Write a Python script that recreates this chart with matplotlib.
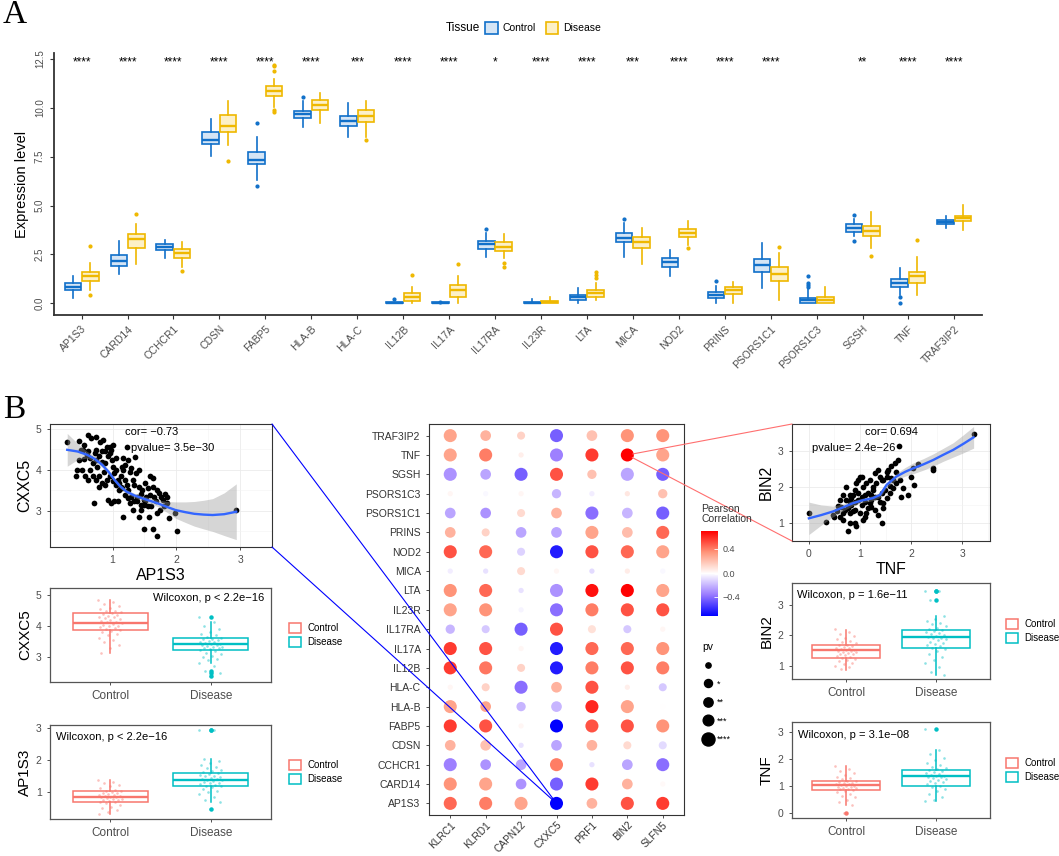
import numpy as np
import matplotlib.pyplot as plt
from matplotlib.patches import Patch, ConnectionPatch
from matplotlib.lines import Line2D
from matplotlib.colors import LinearSegmentedColormap, TwoSlopeNorm
from matplotlib.cm import ScalarMappable

plt.rcParams['font.family'] = ['Liberation Sans', 'DejaVu Sans']

####################
# Panel A data: box statistics
####################
genes = ['AP1S3', 'CARD14', 'CCHCR1', 'CDSN', 'FABP5', 'HLA-B', 'HLA-C', 'IL12B',
         'IL17A', 'IL17RA', 'IL23R', 'LTA', 'MICA', 'NOD2', 'PRINS', 'PSORS1C1',
         'PSORS1C3', 'SGSH', 'TNF', 'TRAF3IP2']
sig = ['****', '****', '****', '****', '****', '****', '***', '****', '****', '*',
       '****', '****', '***', '****', '****', '****', '', '**', '****', '****']

ctrl_lo = [0.29, 1.50, 2.30, 7.51, 6.30, 9.02, 8.50, 0.00, 0.00, 2.39,
           0.00, 0.00, 2.36, 1.37, 0.00, 0.80, 0.00, 3.42, 0.43, 3.83]
ctrl_q1 = [0.68, 1.93, 2.70, 8.16, 7.12, 9.48, 9.08, 0.00, 0.00, 2.78,
           0.00, 0.17, 3.12, 1.88, 0.29, 1.62, 0.03, 3.67, 0.85, 4.05]
ctrl_med = [0.85, 2.17, 2.87, 8.33, 7.34, 9.68, 9.34, 0.02, 0.02, 3.02,
            0.03, 0.31, 3.35, 2.12, 0.43, 1.95, 0.17, 3.86, 1.06, 4.17]
ctrl_q3 = [1.02, 2.48, 3.02, 8.76, 7.74, 9.85, 9.60, 0.05, 0.05, 3.21,
           0.05, 0.43, 3.59, 2.34, 0.56, 2.25, 0.29, 4.05, 1.23, 4.27]
ctrl_hi = [1.40, 3.16, 3.24, 9.43, 8.49, 10.33, 10.25, 0.08, 0.08, 3.59,
           0.20, 0.77, 4.10, 2.73, 0.89, 3.07, 0.72, 4.32, 1.79, 4.47]
ctrl_out = [[], [], [], [], [9.22, 5.98], [10.54], [], [0.22], [0.09], [3.79],
            [], [], [4.30], [], [1.14], [], [1.37, 1.02, 0.94, 0.85], [4.53, 3.19],
            [0.31, 0.0], []]

dis_lo = [0.68, 2.00, 1.88, 8.08, 10.02, 9.22, 8.50, 0.00, 0.00, 2.30,
          0.00, 0.17, 2.00, 2.99, 0.00, 0.17, 0.00, 2.82, 0.43, 3.76]
dis_q1 = [1.16, 2.85, 2.34, 8.76, 10.59, 9.87, 9.26, 0.12, 0.31, 2.68,
          0.00, 0.34, 2.83, 3.38, 0.48, 1.16, 0.03, 3.42, 1.06, 4.23]
dis_med = [1.40, 3.28, 2.56, 9.08, 10.84, 10.16, 9.60, 0.34, 0.68, 2.90,
           0.07, 0.51, 3.14, 3.59, 0.67, 1.50, 0.17, 3.72, 1.40, 4.35]
dis_q3 = [1.59, 3.53, 2.77, 9.65, 11.10, 10.42, 9.90, 0.51, 0.94, 3.12,
          0.12, 0.68, 3.38, 3.79, 0.82, 1.88, 0.34, 3.96, 1.62, 4.44]
dis_hi = [2.05, 4.06, 3.12, 10.33, 11.49, 10.76, 10.33, 0.85, 1.40, 3.53,
          0.34, 1.06, 3.83, 4.23, 1.11, 2.56, 0.85, 4.68, 2.39, 5.05]
dis_out = [[2.95, 0.43], [4.56], [1.67], [7.29], [12.21, 12.12, 11.87, 9.87, 9.77],
           [], [8.37], [1.45], [2.0], [2.05, 1.88], [], [1.62, 1.45, 1.28], [],
           [2.82], [], [2.90], [], [2.44], [3.24], []]

####################
# Panel B data
####################
# AP1S3 (x) vs CXXC5 (y)
ap1s3_x = [0.29, 0.48, 0.50, 0.61, 0.67, 0.74, 0.85, 0.48, 0.43, 0.45, 0.54, 0.56, 0.60,
           0.62, 0.65, 0.69, 0.72, 0.74, 0.76, 0.79, 0.83, 0.86, 0.88, 0.91, 0.93, 0.96,
           0.98, 0.99, 1.00, 1.03, 1.05, 1.08, 1.10, 1.13, 1.15, 1.17, 1.20, 1.22, 1.25,
           1.27, 1.29, 1.32, 1.34, 1.37, 1.38, 1.41, 1.44, 1.46, 1.49, 1.51, 1.53, 1.56,
           1.58, 1.61, 1.63, 1.65, 1.68, 1.70, 1.73, 1.76, 1.79, 1.82, 1.85, 1.58, 1.63,
           1.22, 1.36, 0.71, 1.17, 1.27, 1.13, 0.93, 0.98, 1.03, 1.49, 1.64, 1.70, 1.89,
           2.01, 1.98, 2.94, 1.70, 1.56, 1.44, 1.32, 1.09, 0.88, 0.79, 0.69, 0.65, 0.84,
           0.91, 0.96, 1.00, 1.05, 1.10, 1.15, 1.20, 1.25, 1.29, 1.34, 1.39, 1.44, 1.49,
           1.57, 1.41, 1.75, 1.80, 1.85, 1.25, 1.20, 1.05, 1.00, 0.96, 0.80, 0.74, 0.55,
           0.52, 0.57, 0.62, 0.74, 0.79, 1.17, 1.41, 1.51, 0.88, 0.84]
cxxc5_y = [4.68, 4.71, 4.49, 4.85, 4.77, 4.81, 4.72, 4.24, 3.85, 4.00, 4.49, 4.26, 4.37,
           4.45, 4.28, 4.16, 4.41, 4.24, 4.08, 4.33, 4.20, 3.96, 4.45, 4.57, 4.33, 4.41,
           4.49, 4.23, 4.08, 3.92, 4.00, 3.76, 3.51, 3.84, 4.08, 4.00, 3.76, 3.63, 3.51,
           3.96, 4.04, 3.76, 3.63, 3.92, 3.35, 3.59, 3.41, 3.51, 3.27, 3.23, 3.35, 3.55,
           3.39, 3.11, 3.58, 3.35, 3.23, 3.51, 3.43, 3.35, 3.27, 3.41, 3.33, 3.84, 3.80,
           4.57, 4.31, 3.19, 2.86, 3.19, 3.59, 3.27, 3.19, 3.23, 2.55, 2.56, 2.39, 2.82,
           2.51, 2.94, 3.02, 2.94, 3.11, 3.02, 3.02, 3.23, 3.63, 3.84, 3.84, 4.00, 3.67,
           3.76, 3.84, 3.72, 3.63, 3.67, 3.55, 3.39, 3.31, 3.35, 3.23, 3.23, 3.15, 3.15,
           2.86, 2.86, 3.02, 3.11, 3.19, 4.24, 4.12, 4.28, 4.61, 4.55, 4.67, 4.49, 4.61,
           4.00, 3.84, 3.76, 3.76, 3.59, 4.28, 4.00, 3.67, 4.16, 4.45]
fit1_x = [0.29, 0.45, 0.60, 0.72, 0.84, 0.94, 1.03, 1.12, 1.22, 1.34, 1.46, 1.58, 1.70,
          1.85, 1.99, 2.14, 2.28, 2.43, 2.57, 2.75, 2.94]
fit1_y = [4.49, 4.45, 4.37, 4.27, 4.12, 3.95, 3.76, 3.60, 3.47, 3.38, 3.31, 3.25, 3.19,
          3.10, 3.02, 2.97, 2.93, 2.91, 2.90, 2.92, 2.98]
fit1_se = [0.40, 0.20, 0.08, 0.07, 0.06, 0.05, 0.05, 0.05, 0.05, 0.05, 0.06, 0.07, 0.08,
           0.13, 0.20, 0.25, 0.30, 0.35, 0.40, 0.52, 0.68]

# TNF (x) vs BIN2 (y)
tnf_x = [0.00, 0.34, 0.76, 3.22, 1.76, 2.43, 2.42, 2.14, 2.04, 1.99, 2.05, 1.94, 1.75,
         1.68, 1.61, 1.55, 1.52, 1.45, 1.39, 1.32, 1.25, 1.19, 1.12, 1.06, 0.99, 0.96,
         0.93, 0.90, 0.86, 0.83, 0.80, 0.73, 0.67, 0.60, 0.57, 0.54, 0.50, 0.47, 0.60,
         0.67, 0.80, 0.90, 0.93, 1.06, 1.12, 1.22, 1.29, 1.35, 1.42, 1.45, 1.52, 1.58,
         1.65, 1.71, 1.78, 1.84, 1.61, 1.48, 1.42, 1.35, 1.29, 1.22, 1.16, 1.09, 1.03,
         0.96, 0.90, 0.83, 0.76, 0.70, 0.63, 1.03, 1.09, 1.16, 1.22, 1.39, 0.99, 0.90,
         0.80, 0.73, 1.29, 1.35, 1.42, 1.52, 1.65, 1.03, 0.96, 0.86, 0.67, 0.80, 1.45,
         1.58, 1.71, 1.81, 1.09, 1.19, 1.25]
bin2_y = [1.26, 1.03, 0.78, 3.45, 3.14, 2.51, 2.46, 2.62, 2.51, 2.28, 2.05, 1.77, 2.74,
          2.67, 2.56, 2.46, 2.28, 2.19, 2.28, 2.09, 2.00, 2.19, 2.09, 2.00, 2.28, 2.19,
          2.09, 1.91, 1.77, 1.68, 1.58, 2.00, 1.77, 1.63, 1.46, 1.31, 1.17, 1.21, 1.17,
          1.07, 1.26, 0.98, 0.91, 1.07, 1.26, 1.44, 1.35, 1.21, 1.00, 1.54, 1.68, 1.81,
          1.95, 2.09, 2.19, 1.95, 2.23, 1.91, 1.81, 1.72, 1.72, 1.77, 1.81, 1.77, 1.72,
          1.63, 1.58, 1.49, 1.40, 1.35, 1.44, 1.49, 1.58, 1.40, 1.63, 1.58, 1.26, 1.35,
          1.77, 1.63, 2.37, 2.46, 2.19, 2.42, 2.19, 2.28, 1.81, 1.31, 1.26, 1.00, 1.40,
          2.02, 2.42, 1.72, 1.17, 1.54, 1.91]
fit2_x = [0.00, 0.24, 0.47, 0.66, 0.86, 1.05, 1.25, 1.39, 1.52, 1.71, 1.88, 2.04, 2.24,
          2.43, 2.62, 2.82, 3.02, 3.22]
fit2_y = [1.12, 1.21, 1.31, 1.42, 1.54, 1.62, 1.68, 1.77, 2.05, 2.28, 2.41, 2.51, 2.62,
          2.74, 2.88, 3.02, 3.19, 3.37]
fit2_se = [0.45, 0.28, 0.15, 0.10, 0.07, 0.06, 0.07, 0.07, 0.07, 0.09, 0.12, 0.15, 0.16,
           0.17, 0.18, 0.20, 0.25, 0.30]

# group box plots: (lo, q1, med, q3, hi, outliers) and jittered values
box_stats = {
    'CXXC5': [(3.13, 3.88, 4.11, 4.43, 4.84, []),
              (2.81, 3.24, 3.43, 3.62, 4.13, [4.29, 2.55, 2.48, 2.40])],
    'AP1S3': [(0.33, 0.70, 0.86, 1.03, 1.38, []),
              (0.68, 1.18, 1.37, 1.60, 2.04, [2.93, 2.93, 0.47])],
    'BIN2': [(0.88, 1.26, 1.51, 1.67, 2.18, []),
             (0.70, 1.59, 1.95, 2.18, 2.65, [3.45, 3.45, 3.15])],
    'TNF': [(0.29, 0.85, 1.04, 1.18, 1.73, [0.0]),
            (0.45, 1.02, 1.37, 1.59, 2.34, [3.10])],
}
jit = {
    'CXXC5': [[4.85, 4.78, 4.72, 4.65, 4.60, 4.55, 4.50, 4.48, 4.45, 4.42, 4.40, 4.36, 4.33,
               4.30, 4.28, 4.25, 4.22, 4.20, 4.18, 4.15, 4.12, 4.10, 4.08, 4.05, 4.02, 4.00,
               3.97, 3.94, 3.90, 3.88, 3.85, 3.80, 3.75, 3.70, 3.62, 3.55, 3.48, 3.40, 3.30,
               3.15],
              [4.28, 4.12, 4.00, 3.90, 3.82, 3.75, 3.70, 3.66, 3.62, 3.60, 3.57, 3.55, 3.52,
               3.50, 3.48, 3.46, 3.44, 3.42, 3.40, 3.38, 3.36, 3.34, 3.32, 3.30, 3.28, 3.25,
               3.22, 3.20, 3.15, 3.10, 3.05, 3.00, 2.95, 2.90, 2.82, 2.70, 2.55, 2.48, 2.40]],
    'AP1S3': [[1.38, 1.32, 1.28, 1.22, 1.18, 1.12, 1.08, 1.05, 1.03, 1.00, 0.98, 0.96, 0.94,
               0.92, 0.90, 0.88, 0.87, 0.86, 0.85, 0.84, 0.82, 0.80, 0.78, 0.76, 0.74, 0.72,
               0.70, 0.68, 0.65, 0.60, 0.55, 0.50, 0.45, 0.38, 0.32],
              [2.93, 2.93, 2.05, 1.98, 1.90, 1.85, 1.80, 1.75, 1.70, 1.65, 1.62, 1.60, 1.57,
               1.55, 1.52, 1.50, 1.47, 1.45, 1.42, 1.40, 1.38, 1.37, 1.35, 1.33, 1.30, 1.28,
               1.25, 1.22, 1.20, 1.18, 1.15, 1.10, 1.05, 1.00, 0.95, 0.85, 0.75, 0.68, 0.47]],
    'BIN2': [[2.20, 2.12, 2.05, 1.98, 1.92, 1.87, 1.82, 1.78, 1.74, 1.70, 1.67, 1.65, 1.62,
              1.60, 1.58, 1.55, 1.53, 1.51, 1.50, 1.48, 1.46, 1.44, 1.42, 1.40, 1.38, 1.35,
              1.32, 1.30, 1.27, 1.24, 1.20, 1.15, 1.10, 1.05, 1.00, 0.95, 0.90],
             [3.45, 3.45, 3.15, 2.65, 2.55, 2.48, 2.42, 2.36, 2.30, 2.25, 2.20, 2.17, 2.14,
              2.10, 2.07, 2.04, 2.00, 1.97, 1.95, 1.93, 1.90, 1.87, 1.84, 1.80, 1.76, 1.72,
              1.68, 1.64, 1.60, 1.55, 1.48, 1.40, 1.30, 1.20, 1.10, 0.95, 0.80, 0.70]],
    'TNF': [[1.73, 1.65, 1.55, 1.48, 1.40, 1.35, 1.30, 1.25, 1.20, 1.18, 1.15, 1.13, 1.10,
             1.08, 1.06, 1.04, 1.02, 1.00, 0.98, 0.96, 0.94, 0.92, 0.90, 0.88, 0.85, 0.82,
             0.78, 0.72, 0.65, 0.58, 0.50, 0.40, 0.30, 0.00],
            [3.10, 2.34, 2.20, 2.05, 1.95, 1.85, 1.78, 1.72, 1.66, 1.62, 1.59, 1.55, 1.52,
             1.48, 1.45, 1.42, 1.39, 1.37, 1.35, 1.32, 1.29, 1.25, 1.22, 1.18, 1.14, 1.10,
             1.06, 1.02, 0.98, 0.90, 0.82, 0.72, 0.60, 0.50, 0.45]],
}
wilcox = {'CXXC5': 'Wilcoxon, p < 2.2e\u221216', 'AP1S3': 'Wilcoxon, p < 2.2e\u221216',
          'BIN2': 'Wilcoxon, p = 1.6e\u221211', 'TNF': 'Wilcoxon, p = 3.1e\u221208'}

# dot plot: rows bottom -> top
dot_rows = ['AP1S3', 'CARD14', 'CCHCR1', 'CDSN', 'FABP5', 'HLA-B', 'HLA-C', 'IL12B',
            'IL17A', 'IL17RA', 'IL23R', 'LTA', 'MICA', 'NOD2', 'PRINS', 'PSORS1C1',
            'PSORS1C3', 'SGSH', 'TNF', 'TRAF3IP2']
dot_cols = ['KLRC1', 'KLRD1', 'CAPN12', 'CXXC5', 'PRF1', 'BIN2', 'SLFN5']
pearson = [
    [0.45, 0.40, 0.30, -0.73, 0.25, 0.50, 0.55],
    [0.35, 0.30, -0.30, -0.45, 0.55, 0.25, 0.02],
    [-0.35, -0.30, -0.25, 0.40, -0.08, -0.25, -0.40],
    [0.25, 0.20, -0.08, -0.25, 0.25, 0.12, -0.10],
    [0.55, 0.50, 0.03, -0.73, 0.50, 0.50, 0.35],
    [0.30, 0.30, -0.20, -0.20, 0.60, 0.30, 0.00],
    [0.03, 0.15, -0.40, 0.25, 0.50, 0.05, -0.15],
    [0.55, 0.42, 0.15, -0.65, 0.40, 0.50, 0.40],
    [0.55, 0.50, 0.03, -0.65, 0.45, 0.45, 0.35],
    [-0.20, -0.15, -0.45, 0.50, 0.10, -0.15, 0.03],
    [0.30, 0.35, -0.03, -0.40, 0.40, 0.50, 0.50],
    [0.35, 0.45, -0.08, -0.30, 0.65, 0.68, 0.30],
    [-0.05, -0.08, 0.12, 0.03, -0.10, 0.06, -0.02],
    [0.50, 0.45, -0.12, -0.65, 0.50, 0.45, 0.30],
    [0.25, 0.15, -0.25, -0.25, 0.30, 0.22, 0.45],
    [-0.25, -0.30, 0.12, 0.25, -0.40, -0.20, -0.45],
    [0.03, -0.02, 0.03, -0.20, -0.05, 0.08, 0.20],
    [-0.30, -0.25, -0.45, 0.50, 0.20, -0.25, -0.45],
    [0.30, 0.40, 0.05, -0.35, 0.55, 0.69, 0.30],
    [0.30, 0.25, 0.15, -0.45, 0.20, 0.35, 0.35],
]
pv_level = [
    [4, 4, 4, 4, 3, 4, 4],
    [4, 4, 3, 4, 4, 3, 0],
    [4, 3, 3, 4, 0, 3, 4],
    [3, 3, 0, 3, 3, 1, 1],
    [4, 4, 0, 4, 4, 4, 4],
    [4, 3, 2, 3, 4, 4, 0],
    [0, 1, 4, 3, 4, 0, 1],
    [4, 4, 1, 4, 4, 4, 4],
    [4, 4, 0, 4, 4, 4, 4],
    [2, 1, 4, 4, 1, 1, 0],
    [4, 4, 0, 4, 4, 4, 4],
    [4, 4, 0, 4, 4, 4, 4],
    [0, 0, 1, 0, 0, 0, 0],
    [4, 4, 1, 4, 4, 4, 4],
    [3, 1, 3, 3, 4, 3, 4],
    [3, 3, 1, 3, 4, 3, 4],
    [0, 0, 0, 2, 0, 0, 2],
    [4, 3, 4, 4, 2, 4, 4],
    [4, 4, 0, 4, 4, 4, 4],
    [4, 3, 1, 4, 3, 4, 4],
]
pv_labels = ['', '*', '**', '***', '****']

####################
# styles
####################
W, H = 1059, 856
C_BLUE, C_GOLD = '#1170C9', '#EFB800'
F_BLUE, F_GOLD = '#D5E5F5', '#FCF0C8'
C_CTRL, C_DIS = '#F8766D', '#00BFC4'
GREY = '#4D4D4D'
dot_d = [3.8, 5.8, 6.7, 7.7, 9.4]   # marker diameter (pt) per pv level


def rect(x0, y0, x1, y1):
    # pixel box -> figure fraction
    return [x0 / W, 1 - y1 / H, (x1 - x0) / W, (y1 - y0) / H]


def to_stats(lo, q1, med, q3, hi, out):
    return [dict(whislo=a, q1=b, med=c, q3=d, whishi=e, fliers=f)
            for a, b, c, d, e, f in zip(lo, q1, med, q3, hi, out)]


fig = plt.figure(figsize=(W / 100, H / 100), dpi=100)

fig.text(3 / W, 1 - 15 / H, 'A', family='Liberation Serif', fontsize=24, va='center')
fig.text(3 / W, 1 - 410 / H, 'B', family='Liberation Serif', fontsize=24, va='center')

####################
# Panel A
####################
ax = fig.add_axes(rect(54, 53, 982, 315))
pos = np.arange(1, len(genes) + 1)
for st, off, col, fill in [(to_stats(ctrl_lo, ctrl_q1, ctrl_med, ctrl_q3, ctrl_hi, ctrl_out), -0.19, C_BLUE, F_BLUE),
                           (to_stats(dis_lo, dis_q1, dis_med, dis_q3, dis_hi, dis_out), 0.19, C_GOLD, F_GOLD)]:
    ax.bxp(st, positions=pos + off, widths=0.36, patch_artist=True, showcaps=False,
           boxprops=dict(facecolor=fill, edgecolor=col, lw=1.2),
           medianprops=dict(color=col, lw=1.7),
           whiskerprops=dict(color=col, lw=1.2),
           flierprops=dict(marker='o', markersize=2, markerfacecolor=col, markeredgecolor=col))
for p, s in zip(pos, sig):
    ax.annotate(s, (p, 12.5), xytext=(0, -2.5), textcoords='offset points',
                ha='center', va='center', fontsize=8.5)
ax.set_xlim(0.4, len(genes) + 0.6)
ax.set_ylim(-0.6, 12.8)
ax.set_xticks(pos)
ax.set_xticklabels(genes, rotation=45, ha='right', rotation_mode='anchor', fontsize=7.5)
ax.set_yticks([0, 2.5, 5, 7.5, 10, 12.5])
ax.set_yticklabels(['0.0', '2.5', '5.0', '7.5', '10.0', '12.5'], rotation=90, va='center', fontsize=7)
ax.tick_params(labelcolor=GREY, color='#333333', length=3, width=0.8)
ax.set_ylabel('Expression level', fontsize=10.5, labelpad=4)
for s in ['top', 'right']:
    ax.spines[s].set_visible(False)
for s in ['left', 'bottom']:
    ax.spines[s].set_color('#333333')
    ax.spines[s].set_linewidth(1.3)

fig.text(446 / W, 1 - 28 / H, 'Tissue', fontsize=8.5, va='center')
fig.legend([Patch(facecolor=F_BLUE, edgecolor=C_BLUE, lw=1.2), Patch(facecolor=F_GOLD, edgecolor=C_GOLD, lw=1.2)],
           ['Control', 'Disease'], ncol=2, loc='center left', bbox_to_anchor=(480 / W, 1 - 28 / H),
           frameon=False, fontsize=7.5, handlelength=1.2, handleheight=1.3, handletextpad=0.5,
           columnspacing=0.9, borderpad=0)


####################
# Panel B: scatter plots
####################
def scatter_panel(r, x, y, fx, fy, fse, xlabel, ylabel, xlim, ylim, xt, yt, notes):
    a = fig.add_axes(r)
    a.scatter(x, y, s=17, color='black', lw=0, zorder=2)
    fx, fy, fse = np.array(fx), np.array(fy), np.array(fse)
    a.fill_between(fx, fy - fse, fy + fse, color='#999999', alpha=0.4, lw=0, zorder=3)
    a.plot(fx, fy, color='#3366FF', lw=1.7, zorder=4)
    a.set_xlim(*xlim)
    a.set_ylim(*ylim)
    a.set_xticks(xt)
    a.set_yticks(yt)
    a.set_xticks([v + 0.5 for v in xt[:-1]] + [xt[-1] + 0.5], minor=True)
    a.set_yticks([v + 0.5 for v in yt[:-1]] + [yt[0] - 0.5], minor=True)
    a.grid(which='major', color='#EBEBEB', lw=0.6)
    a.grid(which='minor', color='#F3F3F3', lw=0.4)
    a.set_axisbelow(True)
    a.tick_params(labelsize=7.5, labelcolor=GREY, color='#333333', length=2.5, width=0.6)
    a.tick_params(which='minor', length=0)
    a.set_xlabel(xlabel, fontsize=11.5, labelpad=2)
    a.set_ylabel(ylabel, fontsize=11.5, labelpad=3)
    for sp in a.spines.values():
        sp.set_color('#333333')
        sp.set_linewidth(0.8)
    for (tx, ty, t) in notes:
        a.text(tx, ty, t, ha='center', va='center', fontsize=8, zorder=5)
    return a


ax_l = scatter_panel(rect(50, 424, 272, 547), ap1s3_x, cxxc5_y, fit1_x, fit1_y, fit1_se,
                     'AP1S3', 'CXXC5', (0.02, 3.23), (2.12, 5.12), [1, 2, 3], [3, 4, 5],
                     [(1.61, 4.93, 'cor= \u22120.73'), (1.95, 4.54, 'pvalue= 3.5e\u221230')])
ax_r = scatter_panel(rect(792, 424, 990, 541), tnf_x, bin2_y, fit2_x, fit2_y, fit2_se,
                     'TNF', 'BIN2', (-0.33, 3.54), (0.49, 3.74), [0, 1, 2, 3], [1, 2, 3],
                     [(1.61, 3.53, 'cor= 0.694'), (0.88, 3.08, 'pvalue= 2.4e\u221226')])


####################
# Panel B: group box plots
####################
def group_panel(r, gene, ylim, yt, note_xy, note_ha):
    a = fig.add_axes(r)
    for k, (st, col) in enumerate(zip(box_stats[gene], [C_CTRL, C_DIS])):
        lo, q1, med, q3, hi, out = st
        a.bxp([dict(whislo=lo, q1=q1, med=med, q3=q3, whishi=hi, fliers=out)],
              positions=[k + 1], widths=0.75, showcaps=False, patch_artist=True,
              boxprops=dict(facecolor='none', edgecolor=col, lw=1.1),
              medianprops=dict(color=col, lw=1.7),
              whiskerprops=dict(color=col, lw=1.1),
              flierprops=dict(marker='o', markersize=2.2, markerfacecolor=col, markeredgecolor=col))
        vals = jit[gene][k]
        # spread jitter deterministically inside +-0.12
        offs = [((i * 0.618034) % 1 - 0.5) * 0.24 for i in range(len(vals))]
        a.scatter(np.array(offs) + k + 1, vals, s=3.5, color=col, alpha=0.45, lw=0, zorder=3)
    a.set_xlim(0.4, 2.6)
    a.set_ylim(*ylim)
    a.set_xticks([1, 2])
    a.set_xticklabels(['Control', 'Disease'])
    a.set_yticks(yt)
    a.tick_params(axis='x', labelsize=8.5, labelcolor=GREY, color='#333333', length=2.5, width=0.6)
    a.tick_params(axis='y', labelsize=7.5, labelcolor=GREY, color='#333333', length=2.5, width=0.6)
    a.set_ylabel(gene, fontsize=11, labelpad=3)
    for sp in a.spines.values():
        sp.set_color('#555555')
        sp.set_linewidth(0.9)
    a.text(note_xy[0], note_xy[1], wilcox[gene], ha=note_ha, va='center', fontsize=8)
    a.legend([Patch(facecolor='white', edgecolor=C_CTRL, lw=1.1), Patch(facecolor='white', edgecolor=C_DIS, lw=1.1)],
             ['Control', 'Disease'], loc='center left', bbox_to_anchor=(1.08, 0.5), frameon=False,
             fontsize=7, handlelength=1.3, handleheight=1.2, handletextpad=0.6, labelspacing=0.45,
             borderpad=0, borderaxespad=0)
    return a


group_panel(rect(50, 588, 271, 682), 'CXXC5', (2.2, 5.23), [3, 4, 5], (1.98, 4.9), 'center')
group_panel(rect(50, 725, 271, 819), 'AP1S3', (0.16, 3.1), [1, 2, 3], (0.46, 2.74), 'left')
group_panel(rect(792, 583, 990, 679), 'BIN2', (0.57, 3.72), [1, 2, 3], (0.46, 3.33), 'left')
group_panel(rect(792, 722, 990, 818), 'TNF', (-0.18, 3.37), [0, 1, 2, 3], (0.47, 2.9), 'left')

####################
# Panel B: correlation dot plot
####################
cmap = LinearSegmentedColormap.from_list('pc', ['#0000FF', '#9A7BFF', '#FFFFFF', '#FF967A', '#FF0000'])
norm = TwoSlopeNorm(vmin=-0.73, vcenter=0.0, vmax=0.69)
ax_d = fig.add_axes(rect(429, 424, 684, 815))
cx, cy = np.meshgrid(np.arange(1, len(dot_cols) + 1), np.arange(1, len(dot_rows) + 1))
sizes = np.array(dot_d)[np.array(pv_level)] ** 2
ax_d.scatter(cx.ravel(), cy.ravel(), s=sizes.ravel(), c=np.array(pearson).ravel(),
             cmap=cmap, norm=norm, lw=0, zorder=2)
ax_d.set_xlim(0.4, len(dot_cols) + 0.6)
ax_d.set_ylim(0.4, len(dot_rows) + 0.6)
ax_d.set_xticks(range(1, len(dot_cols) + 1))
ax_d.set_xticklabels(dot_cols, rotation=45, ha='right', rotation_mode='anchor')
ax_d.set_yticks(range(1, len(dot_rows) + 1))
ax_d.set_yticklabels(dot_rows)
ax_d.tick_params(axis='y', labelsize=7.5, labelcolor='#333333', color='#333333', length=2.5, width=0.6)
ax_d.tick_params(axis='x', labelsize=7.3, labelcolor='#333333', color='#333333', length=2.5,
                 width=0.6, pad=1)
for sp in ax_d.spines.values():
    sp.set_color('#333333')
    sp.set_linewidth(0.8)

cax = fig.add_axes(rect(701, 531, 718, 616))
cb = fig.colorbar(ScalarMappable(norm=norm, cmap=cmap), cax=cax, ticks=[-0.4, 0, 0.4])
cb.ax.set_yticklabels(['\u22120.4', '0.0', '0.4'])
cb.outline.set_visible(False)
cb.ax.tick_params(labelsize=6.5, labelcolor=GREY, color='white', direction='in', length=3, width=0.6)
fig.text(701 / W, 1 - 514 / H, 'Pearson\nCorrelation', fontsize=7.5, color='#333333',
         va='center', ha='left', linespacing=1.1)

fig.legend([Line2D([], [], ls='', marker='o', color='black', markersize=d) for d in dot_d],
           pv_labels, title='pv', loc='upper left', bbox_to_anchor=(698 / W, 1 - 637 / H),
           frameon=False, fontsize=6.5, title_fontsize=7.5, alignment='left',
           labelspacing=1.05, handletextpad=0.4, handlelength=1.2, borderpad=0)

####################
# connector lines
####################
for yA in [1, 0]:
    fig.add_artist(ConnectionPatch(xyA=(1, yA), coordsA=ax_l.transAxes,
                                   xyB=(dot_cols.index('CXXC5') + 1, dot_rows.index('AP1S3') + 1),
                                   coordsB=ax_d.transData, color='#0000FF', lw=0.8, shrinkB=4))
    fig.add_artist(ConnectionPatch(xyA=(0, yA), coordsA=ax_r.transAxes,
                                   xyB=(dot_cols.index('BIN2') + 1, dot_rows.index('TNF') + 1),
                                   coordsB=ax_d.transData, color='#FF6F6F', lw=0.8, shrinkB=4))

fig.savefig('out.png', dpi=100)
